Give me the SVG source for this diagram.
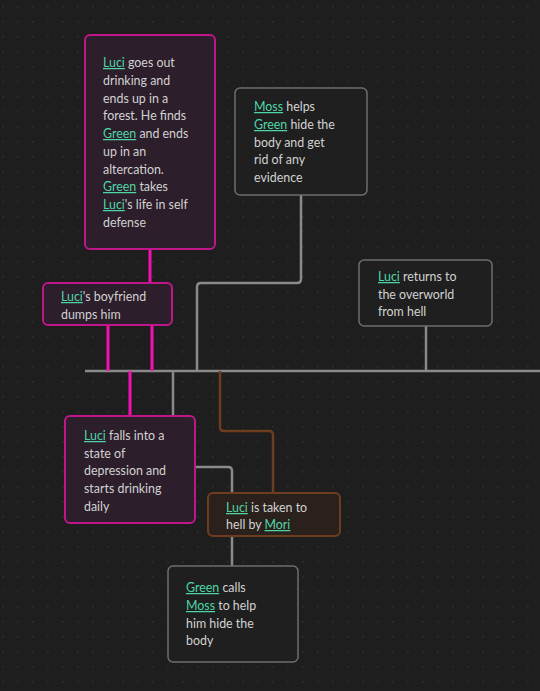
<svg xmlns="http://www.w3.org/2000/svg" width="540" height="691" viewBox="0 0 540 691">
<defs>
<pattern id="dots" x="2" y="6" width="15" height="15" patternUnits="userSpaceOnUse">
<rect x="0" y="0" width="1.6" height="1.6" fill="#2e2e2e"/>
</pattern>
<style>
.t{font-family:Lato,"Open Sans","Liberation Sans",sans-serif;font-size:12.4px;fill:#d2d2d2}
.l{fill:#4fd6a6;text-decoration:underline}
.pink{fill:#2c1e2a;stroke:#bf168a;stroke-width:2}
.grey{fill:#1f1f1f;stroke:#6e6e6e;stroke-width:1.5}
.brown{fill:#2a211d;stroke:#6e3c1e;stroke-width:2}
.cp{stroke:#f510b0;stroke-width:3;fill:none}
.cg{stroke:#8a8a8a;stroke-width:2.5;fill:none}
.cb{stroke:#6e3c1e;stroke-width:2.5;fill:none}
</style>
</defs>
<rect width="540" height="691" fill="#1e1e1e"/>
<rect width="540" height="691" fill="url(#dots)"/>
<g id="connectors">
<line class="cg" x1="85" y1="371" x2="540" y2="371"/>
<line class="cp" x1="150" y1="249" x2="150" y2="283"/>
<line class="cp" x1="108" y1="325" x2="108" y2="371"/>
<line class="cp" x1="152" y1="325" x2="152" y2="371"/>
<line class="cp" x1="130" y1="371" x2="130" y2="416"/>
<line class="cg" x1="173" y1="371" x2="173" y2="416"/>
<path class="cg" d="M301 195 V279 Q301 283 297 283 H201 Q197 283 197 287 V371"/>
<line class="cg" x1="426" y1="326" x2="426" y2="371"/>
<path class="cb" d="M220 371 V427 Q220 431 224 431 H269 Q273 431 273 435 V493"/>
<path class="cg" d="M195 467 H228 Q232 467 232 471 V566"/>
</g>
<g id="n1">
<rect class="pink" x="85" y="35" width="130" height="214" rx="5"/>
<text class="t" x="103" y="67"><tspan class="l">Luci</tspan> goes out</text>
<text class="t" x="103" y="85">drinking and</text>
<text class="t" x="103" y="103">ends up in a</text>
<text class="t" x="103" y="120">forest. He finds</text>
<text class="t" x="103" y="138"><tspan class="l">Green</tspan> and ends</text>
<text class="t" x="103" y="156">up in an</text>
<text class="t" x="103" y="174">altercation.</text>
<text class="t" x="103" y="191"><tspan class="l">Green</tspan> takes</text>
<text class="t" x="103" y="209"><tspan class="l">Luci</tspan>'s life in self</text>
<text class="t" x="103" y="227">defense</text>
</g>
<g id="n2">
<rect class="grey" x="235" y="88" width="132" height="107" rx="5"/>
<text class="t" x="254" y="111"><tspan class="l">Moss</tspan> helps</text>
<text class="t" x="254" y="129"><tspan class="l">Green</tspan> hide the</text>
<text class="t" x="254" y="147">body and get</text>
<text class="t" x="254" y="164">rid of any</text>
<text class="t" x="254" y="182">evidence</text>
</g>
<g id="n3">
<rect class="grey" x="359" y="260" width="133" height="66" rx="5"/>
<text class="t" x="378" y="281"><tspan class="l">Luci</tspan> returns to</text>
<text class="t" x="378" y="299">the overworld</text>
<text class="t" x="378" y="316">from hell</text>
</g>
<g id="n4">
<rect class="pink" x="43" y="283" width="129" height="42" rx="5"/>
<text class="t" x="61" y="301"><tspan class="l">Luci</tspan>'s boyfriend</text>
<text class="t" x="61" y="319">dumps him</text>
</g>
<g id="n5">
<rect class="pink" x="65" y="416" width="130" height="107" rx="5"/>
<text class="t" x="84" y="440"><tspan class="l">Luci</tspan> falls into a</text>
<text class="t" x="84" y="458">state of</text>
<text class="t" x="84" y="475">depression and</text>
<text class="t" x="84" y="493">starts drinking</text>
<text class="t" x="84" y="511">daily</text>
</g>
<g id="n6">
<rect class="brown" x="208" y="493" width="132" height="43" rx="5"/>
<text class="t" x="226" y="512"><tspan class="l">Luci</tspan> is taken to</text>
<text class="t" x="226" y="529">hell by <tspan class="l">Mori</tspan></text>
</g>
<g id="n7">
<rect class="grey" x="168" y="566" width="130" height="96" rx="5"/>
<text class="t" x="186" y="592"><tspan class="l">Green</tspan> calls</text>
<text class="t" x="186" y="610"><tspan class="l">Moss</tspan> to help</text>
<text class="t" x="186" y="628">him hide the</text>
<text class="t" x="186" y="645">body</text>
</g>
</svg>
